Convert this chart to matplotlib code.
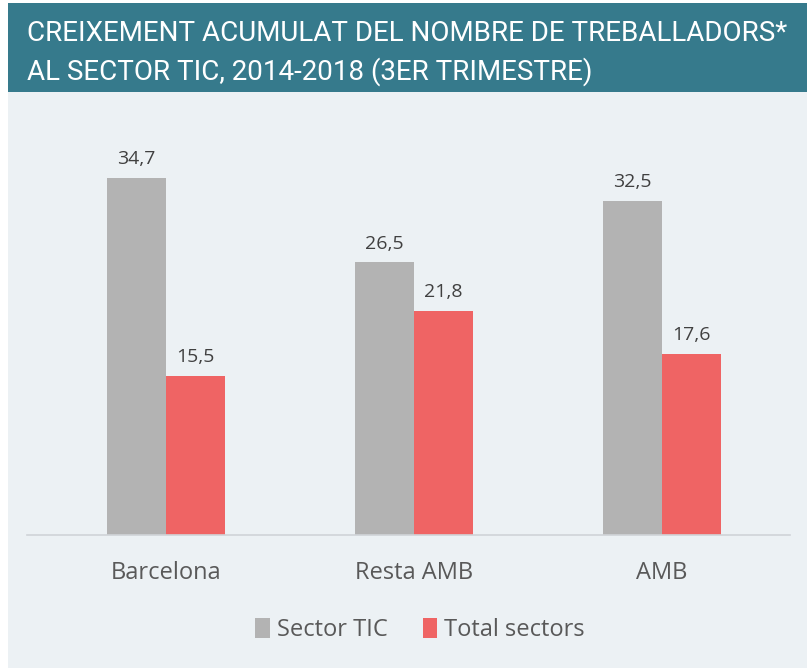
import matplotlib.pyplot as plt
from matplotlib.patches import Rectangle
import numpy as np

categories = ["Barcelona", "Resta AMB", "AMB"]
sector_tic = [34.7, 26.5, 32.5]
total_sectors = [15.5, 21.8, 17.6]
series_names = ["Sector TIC", "Total sectors"]
title = "CREIXEMENT ACUMULAT DEL NOMBRE DE TREBALLADORS*\nAL SECTOR TIC, 2014-2018 (3ER TRIMESTRE)"

GRAY = "#b3b3b3"
RED = "#ef6464"
TEAL = "#367a8c"
BG = "#ecf1f4"
TXT = "#404040"

plt.rcParams['font.family'] = ['Open Sans', 'DejaVu Sans']

W, H = 807, 668
fig = plt.figure(figsize=(W / 100, H / 100), dpi=100)
fig.patch.set_facecolor("white")

# background panel and title banner on a bottom layer
bg = fig.add_axes([0, 0, 1, 1], zorder=-1)
bg.set_xlim(0, W)
bg.set_ylim(H, 0)
bg.axis("off")
bg.add_patch(Rectangle((8, 92), W - 8, H - 92, facecolor=BG, edgecolor="none"))
bg.add_patch(Rectangle((8, 3), W - 8, 89, facecolor=TEAL, edgecolor="none"))
bg.text(27, 53, title, color="white", fontsize=20, va="center", ha="left",
        linespacing=1.45, family=["Roboto", "DejaVu Sans"])

ax = fig.add_axes([27 / W, 1 - 535 / H, 763 / W, 435 / H])
ax.set_facecolor("none")
x = np.arange(len(categories))
w = 0.238
b1 = ax.bar(x - w / 2, sector_tic, w, color=GRAY, label=series_names[0])
b2 = ax.bar(x + w / 2, total_sectors, w, color=RED, label=series_names[1])
for bars, vals in ((b1, sector_tic), (b2, total_sectors)):
    for r, v in zip(bars, vals):
        ax.annotate(f"{v:.1f}".replace(".", ","), (r.get_x() + r.get_width() / 2, v),
                    xytext=(0, 7), textcoords="offset points", ha="center", va="bottom",
                    fontsize=14, color=TXT)

ax.set_xlim(-0.5605, 2.516)
ax.set_ylim(0, 435 / 10.29)
for s in ["top", "right", "left"]:
    ax.spines[s].set_visible(False)
ax.spines["bottom"].set_color("#d0d4d8")
ax.spines["bottom"].set_linewidth(1.2)
ax.set_yticks([])
ax.set_xticks(x)
ax.set_xticklabels(categories, fontsize=17, color="#595959")
ax.tick_params(axis="x", length=0, pad=19)

fig.legend(handles=[b1, b2], labels=series_names, loc="center", bbox_to_anchor=(420 / W, 1 - 630 / H),
           ncol=2, frameon=False, fontsize=17, handlelength=0.6, handleheight=0.9,
           handletextpad=0.3, columnspacing=1.5, labelcolor="#595959")

fig.savefig("out.png", dpi=100, facecolor=fig.get_facecolor())
